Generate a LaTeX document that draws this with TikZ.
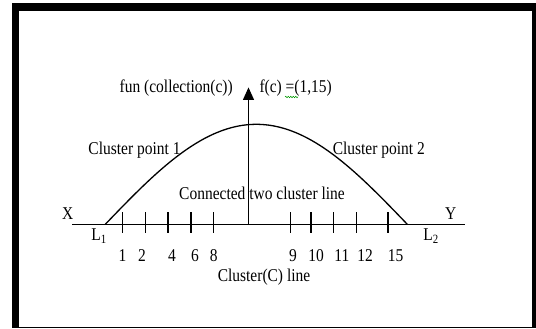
\documentclass[tikz,border=0pt]{standalone}
\usepackage{fontspec}
\setmainfont{Liberation Serif}[FakeStretch=0.86]
\usetikzlibrary{arrows.meta,decorations.pathmorphing}
\tikzset{
  lbl/.style={inner sep=0pt, font=\fontsize{18}{21}\selectfont},
  axisline/.style={line width=1.4pt},
  ticks/.style={line width=1.4pt}
}
\begin{document}
\begin{tikzpicture}[x=1pt,y=-1pt]
\useasboundingbox (0,0) rectangle (536,329);
% frame
\fill[black] (11.7,3.3) rectangle (536,328.3);
\fill[white] (19.3,10.7) rectangle (531.7,326.7);
% cluster line and the two ends of the curve
\coordinate (L1) at (105.3,224.3);
\coordinate (L2) at (407.3,224.3);
\coordinate (axisL) at (72,224.3);
\coordinate (axisR) at (465,224.3);
\coordinate (fbase) at (248.5,224.3);
\coordinate (ftip) at (248.5,87.4);
\draw[axisline] (axisL) -- (axisR);
\draw[line width=1.3pt] plot[domain=0:180, samples=80] ({105.3+1.6778*\x},{224.3-100*sin(\x)});
\draw[axisline, -{Triangle[length=12.6pt,width=11pt]}] (fbase) -- (ftip);
% ticks
\foreach \tx in {122.4,145.3,167.9,190.8,213.7,290.6,311.1,333.7,356.6,388}
  \draw[ticks] (\tx,212.4) -- (\tx,233.3);
% tick labels
\foreach \tx/\tl/\tn in {122.4/1/a,141.9/2/b,172/4/c,194.9/6/d,213.7/8/e,293/9/f,316.2/10/g,341.9/11/h,365.1/12/i,395.6/15/j}
  \node[lbl] (num\tn) at (\tx,256) {\tl};
\node[lbl] (xlab) at (67.7,214) {X};
\node[lbl] (ylab) at (450.6,214) {Y};
\node[lbl] (l1lab) at (99,236) {L\textsubscript{1}};
\node[lbl] (l2lab) at (431,236) {L\textsubscript{2}};
\node[lbl] (clline) at (264,276.7) {Cluster(C) line};
\node[lbl] (conn) at (262,193.3) {Connected two cluster line};
\node[lbl] (cp1) at (134.5,150.5) {Cluster point 1};
\node[lbl] (cp2) at (378.8,150.5) {Cluster point 2};
\node[lbl] (fun) at (176.2,88.3) {fun (collection(c))};
\node[lbl] (fc) at (295.7,88.3) {f(c) =(1,15)};
\draw[green!60!black, line width=0.5pt, decorate, decoration={snake, amplitude=0.8pt, segment length=2.5pt}] (285,97) -- (298,97);
\end{tikzpicture}
\end{document}
